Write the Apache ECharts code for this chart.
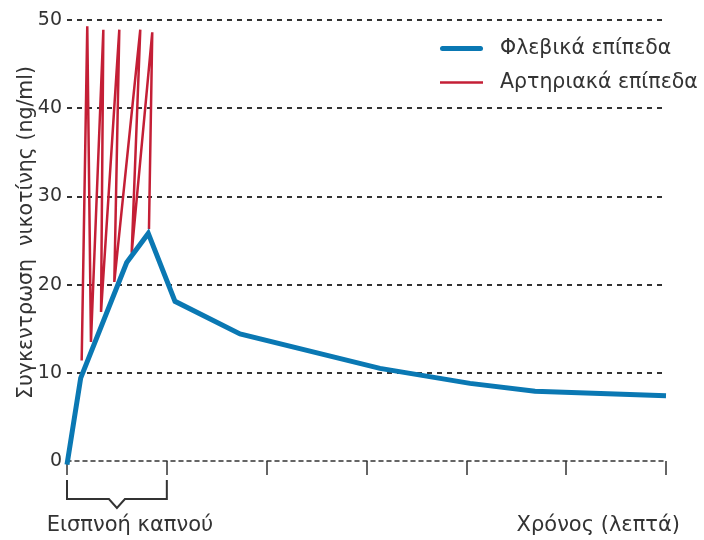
<!DOCTYPE html>
<html><head><meta charset="utf-8">
<script src="https://cdn.jsdelivr.net/npm/echarts@6/dist/echarts.min.js"></script>
<style>html,body{margin:0;padding:0;background:#fff}#c{width:704px;height:540px}</style>
</head><body><div id="c"></div>
<script>
// ---- data ----
const venousX = [0, 0.137, 0.598, 0.814, 1.082, 1.733, 3.135, 4.037, 4.688, 6.0];
const venousY = [-0.4, 9.4, 22.5, 25.8, 18.1, 14.4, 10.5, 8.8, 7.9, 7.4];
const arterialX = [0.147, 0.203, 0.240, 0.364, 0.341, 0.524, 0.474, 0.734, 0.648, 0.854, 0.821];
const arterialY = [11.4, 49.3, 13.5, 48.9, 16.9, 48.9, 20.3, 48.9, 23.6, 48.6, 26.3];
const yTickValues = [0, 10, 20, 30, 40, 50];
const xTickValues = [0, 1, 2, 3, 4, 5, 6];
const seriesNames = ['Φλεβικά επίπεδα', 'Αρτηριακά επίπεδα'];
const yAxisTitle = 'Συγκεντρωση  νικοτίνης (ng/ml)';
const xAxisTitle = 'Χρόνος (λεπτά)';
const intervalLabel = 'Εισπνοή καπνού';
const smokingInterval = [0, 1];

// ---- style ----
const FONT = 'DejaVu Sans';
const TXT = '#333333';
const BLUE = '#0a78b3';
const RED = '#c41f36';

const chart = echarts.init(document.getElementById('c'), null, {renderer: 'canvas'});
const zip = (xs, ys) => xs.map((x, i) => [x, ys[i]]);

chart.setOption({
  animation: false,
  backgroundColor: '#ffffff',
  textStyle: {fontFamily: FONT, color: TXT},
  grid: {left: 67, right: 38, top: 20, bottom: 79, containLabel: false, outerBoundsMode: 'none'},
  legend: {
    orient: 'vertical', left: 435, top: 33, itemWidth: 43, itemHeight: 14, itemGap: 13,
    selectedMode: false, symbolKeepAspect: true,
    textStyle: {fontFamily: FONT, fontSize: 20.5, color: TXT, lineHeight: 20, padding: [0, 0, 0, 12]},
    data: [
      {name: seriesNames[0], icon: 'path://M2.5,0H40.5A2.5,2.5,0,0,1,40.5,5H2.5A2.5,2.5,0,0,1,2.5,0Z', itemStyle: {color: BLUE}},
      {name: seriesNames[1], icon: 'path://M0,0H43V2.5H0Z', itemStyle: {color: RED}}
    ]
  },
  xAxis: {
    type: 'value', min: xTickValues[0], max: xTickValues[xTickValues.length - 1], interval: 1,
    axisLine: {show: true, onZero: false, lineStyle: {color: TXT, width: 1.5, type: [4, 4]}},
    axisTick: {show: true, length: 14, lineStyle: {color: TXT, width: 1.5}},
    axisLabel: {show: false},
    splitLine: {show: false}
  },
  yAxis: {
    type: 'value', min: yTickValues[0], max: yTickValues[yTickValues.length - 1], interval: 10,
    axisLine: {show: false},
    axisTick: {show: false},
    axisLabel: {fontFamily: FONT, fontSize: 19, color: TXT, margin: 5},
    splitLine: {show: true, showMinLine: false, lineStyle: {color: TXT, width: 2, type: [5, 5]}}
  },
  series: [
    {name: seriesNames[0], type: 'line', data: zip(venousX, venousY), symbol: 'none', clip: false,
     lineStyle: {color: BLUE, width: 5, join: 'miter'}, itemStyle: {color: BLUE}, z: 3},
    {name: seriesNames[1], type: 'line', data: zip(arterialX, arterialY), symbol: 'none', clip: false,
     lineStyle: {color: RED, width: 2.5}, itemStyle: {color: RED}, z: 2}
  ]
});

// bracket + axis titles positioned from the axis scale
const p0 = chart.convertToPixel({gridIndex: 0}, [smokingInterval[0], 0]);
const p1 = chart.convertToPixel({gridIndex: 0}, [smokingInterval[1], 0]);
const pEnd = chart.convertToPixel({gridIndex: 0}, [xTickValues[xTickValues.length - 1], 0]);
const pTop = chart.convertToPixel({gridIndex: 0}, [0, yTickValues[yTickValues.length - 1]]);
const y0 = p0[1];
const mid = (p0[0] + p1[0]) / 2;
chart.setOption({
  graphic: [
    {type: 'polyline', silent: true,
     shape: {points: [[p0[0], y0 + 19], [p0[0], y0 + 38], [mid - 8, y0 + 38], [mid, y0 + 47],
                      [mid + 8, y0 + 38], [p1[0], y0 + 38], [p1[0], y0 + 19]]},
     style: {stroke: TXT, lineWidth: 2, fill: null}},
    {type: 'text', x: mid + 13, y: y0 + 65, silent: true,
     style: {text: intervalLabel, fontFamily: FONT, fontSize: 21, fill: TXT, align: 'center', verticalAlign: 'middle'}},
    {type: 'text', x: pEnd[0] + 14, y: y0 + 65, silent: true,
     style: {text: xAxisTitle, fontFamily: FONT, fontSize: 21, fill: TXT, align: 'right', verticalAlign: 'middle'}},
    {type: 'text', x: p0[0] - 40, y: (y0 + pTop[1]) / 2 - 8, rotation: Math.PI / 2, silent: true,
     style: {text: yAxisTitle, fontFamily: FONT, fontSize: 20.5, fill: TXT, align: 'center', verticalAlign: 'middle'}}
  ]
});
</script>
</body></html>
